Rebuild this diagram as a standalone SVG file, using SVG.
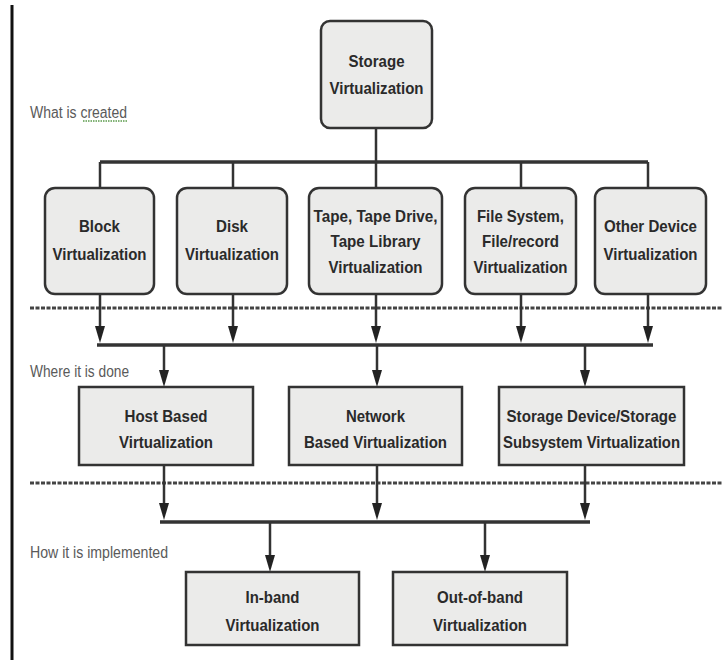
<svg xmlns="http://www.w3.org/2000/svg" width="722" height="660" viewBox="0 0 722 660">
<defs>
<style>
.box{fill:#ebebea;stroke:#333;stroke-width:2.5}
.t{font-family:"Liberation Sans",Arial,sans-serif;font-weight:bold;font-size:17px;fill:#2a2a2a;text-anchor:middle}
.lbl{font-family:"Liberation Sans",Arial,sans-serif;font-size:16px;fill:#5a5a5a}
.ln{stroke:#333;stroke-width:2.5;fill:none}
.bus{stroke:#333;stroke-width:3.5;fill:none}
.dash{stroke:#444;stroke-width:3;stroke-dasharray:4 1.5;fill:none}
.ah{fill:#222}
</style>
</defs>
<rect width="722" height="660" fill="#fff"/>
<line x1="12" y1="5" x2="12" y2="660" stroke="#111" stroke-width="3"/>

<g id="labels">
<text class="lbl" x="30" y="118" textLength="97" lengthAdjust="spacingAndGlyphs">What is created</text>
<line x1="83" y1="121" x2="127" y2="121" stroke="#5a9a4a" stroke-width="1.3" stroke-dasharray="1.5 1"/>
<text class="lbl" x="30" y="377" textLength="99" lengthAdjust="spacingAndGlyphs">Where it is done</text>
<text class="lbl" x="30" y="558" textLength="138" lengthAdjust="spacingAndGlyphs">How it is implemented</text>
</g>

<g id="separators">
<line class="dash" x1="30" y1="308" x2="722" y2="308"/>
<line class="dash" x1="30" y1="483" x2="722" y2="483"/>
</g>

<g id="connectors">
<line class="ln" x1="376" y1="128" x2="376" y2="162"/>
<line class="bus" x1="100" y1="162" x2="648" y2="162"/>
<line class="ln" x1="100" y1="162" x2="100" y2="188"/>
<line class="ln" x1="233" y1="162" x2="233" y2="188"/>
<line class="ln" x1="376" y1="162" x2="376" y2="188"/>
<line class="ln" x1="521" y1="162" x2="521" y2="188"/>
<line class="ln" x1="648" y1="162" x2="648" y2="188"/>

<line class="ln" x1="100" y1="294" x2="100" y2="330"/><path class="ah" d="M95,326 L105,326 L100,343 Z"/>
<line class="ln" x1="233" y1="294" x2="233" y2="330"/><path class="ah" d="M228,326 L238,326 L233,343 Z"/>
<line class="ln" x1="376" y1="294" x2="376" y2="330"/><path class="ah" d="M371,326 L381,326 L376,343 Z"/>
<line class="ln" x1="521" y1="294" x2="521" y2="330"/><path class="ah" d="M516,326 L526,326 L521,343 Z"/>
<line class="ln" x1="648" y1="294" x2="648" y2="330"/><path class="ah" d="M643,326 L653,326 L648,343 Z"/>
<line class="bus" x1="97" y1="345" x2="653" y2="345"/>

<line class="ln" x1="164" y1="345" x2="164" y2="375"/><path class="ah" d="M159,370 L169,370 L164,387 Z"/>
<line class="ln" x1="377" y1="345" x2="377" y2="375"/><path class="ah" d="M372,370 L382,370 L377,387 Z"/>
<line class="ln" x1="585" y1="345" x2="585" y2="375"/><path class="ah" d="M580,370 L590,370 L585,387 Z"/>

<line class="ln" x1="164" y1="465" x2="164" y2="508"/><path class="ah" d="M159,503 L169,503 L164,520 Z"/>
<line class="ln" x1="377" y1="465" x2="377" y2="508"/><path class="ah" d="M372,503 L382,503 L377,520 Z"/>
<line class="ln" x1="585" y1="465" x2="585" y2="508"/><path class="ah" d="M580,503 L590,503 L585,520 Z"/>
<line class="bus" x1="160" y1="522" x2="590" y2="522"/>

<line class="ln" x1="270" y1="522" x2="270" y2="560"/><path class="ah" d="M265,555 L275,555 L270,572 Z"/>
<line class="ln" x1="485" y1="522" x2="485" y2="560"/><path class="ah" d="M480,555 L490,555 L485,572 Z"/>
</g>

<g id="storage-virtualization">
<rect class="box" x="321" y="21" width="111" height="107" rx="9"/>
<text class="t" x="376.5" y="67" textLength="56" lengthAdjust="spacingAndGlyphs">Storage</text>
<text class="t" x="376.5" y="94" textLength="94" lengthAdjust="spacingAndGlyphs">Virtualization</text>
</g>

<g id="block-virtualization">
<rect class="box" x="45" y="188" width="109" height="106" rx="10"/>
<text class="t" x="99.5" y="232" textLength="41" lengthAdjust="spacingAndGlyphs">Block</text>
<text class="t" x="99.5" y="260" textLength="94" lengthAdjust="spacingAndGlyphs">Virtualization</text>
</g>
<g id="disk-virtualization">
<rect class="box" x="177" y="188" width="110" height="106" rx="10"/>
<text class="t" x="232" y="232" textLength="32" lengthAdjust="spacingAndGlyphs">Disk</text>
<text class="t" x="232" y="260" textLength="94" lengthAdjust="spacingAndGlyphs">Virtualization</text>
</g>
<g id="tape-virtualization">
<rect class="box" x="309" y="188" width="133" height="106" rx="10"/>
<text class="t" x="375.5" y="222" textLength="124" lengthAdjust="spacingAndGlyphs">Tape, Tape Drive,</text>
<text class="t" x="375.5" y="247" textLength="90" lengthAdjust="spacingAndGlyphs">Tape Library</text>
<text class="t" x="375.5" y="273" textLength="94" lengthAdjust="spacingAndGlyphs">Virtualization</text>
</g>
<g id="file-virtualization">
<rect class="box" x="465" y="188" width="111" height="106" rx="10"/>
<text class="t" x="520.5" y="222" textLength="87" lengthAdjust="spacingAndGlyphs">File System,</text>
<text class="t" x="520.5" y="247" textLength="77" lengthAdjust="spacingAndGlyphs">File/record</text>
<text class="t" x="520.5" y="273" textLength="94" lengthAdjust="spacingAndGlyphs">Virtualization</text>
</g>
<g id="other-device-virtualization">
<rect class="box" x="595" y="188" width="111" height="106" rx="10"/>
<text class="t" x="650.5" y="232" textLength="93" lengthAdjust="spacingAndGlyphs">Other Device</text>
<text class="t" x="650.5" y="260" textLength="94" lengthAdjust="spacingAndGlyphs">Virtualization</text>
</g>

<g id="host-based">
<rect class="box" x="79" y="387" width="174" height="78"/>
<text class="t" x="166" y="422" textLength="83" lengthAdjust="spacingAndGlyphs">Host Based</text>
<text class="t" x="166" y="448" textLength="94" lengthAdjust="spacingAndGlyphs">Virtualization</text>
</g>
<g id="network-based">
<rect class="box" x="289" y="387" width="173" height="78"/>
<text class="t" x="375.5" y="422" textLength="59" lengthAdjust="spacingAndGlyphs">Network</text>
<text class="t" x="375.5" y="448" textLength="143" lengthAdjust="spacingAndGlyphs">Based Virtualization</text>
</g>
<g id="storage-device">
<rect class="box" x="499" y="387" width="185" height="78"/>
<text class="t" x="591.5" y="422" textLength="170" lengthAdjust="spacingAndGlyphs">Storage Device/Storage</text>
<text class="t" x="591.5" y="448" textLength="177" lengthAdjust="spacingAndGlyphs">Subsystem Virtualization</text>
</g>

<g id="in-band">
<rect class="box" x="186" y="572" width="173" height="73"/>
<text class="t" x="272.5" y="603" textLength="54" lengthAdjust="spacingAndGlyphs">In-band</text>
<text class="t" x="272.5" y="631" textLength="94" lengthAdjust="spacingAndGlyphs">Virtualization</text>
</g>
<g id="out-of-band">
<rect class="box" x="393" y="572" width="174" height="73"/>
<text class="t" x="480" y="603" textLength="86" lengthAdjust="spacingAndGlyphs">Out-of-band</text>
<text class="t" x="480" y="631" textLength="94" lengthAdjust="spacingAndGlyphs">Virtualization</text>
</g>
</svg>
